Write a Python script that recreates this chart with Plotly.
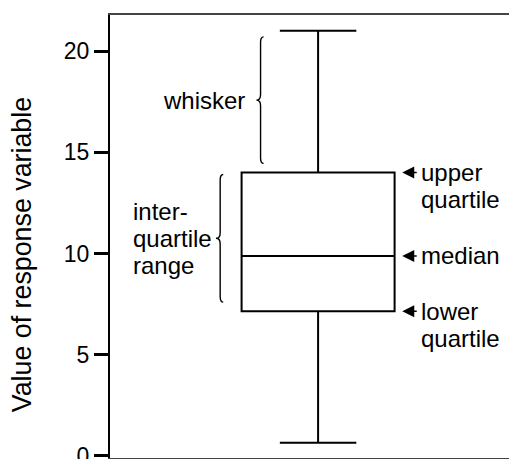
import plotly.graph_objects as go

# box-plot summary values
lower_fence = 0.65
q1 = 7.15
median = 9.88
q3 = 14.0
upper_fence = 21.0

tick_vals = [0, 5, 10, 15, 20]
tick_text = ["0", "5", "10", "15", "20"]

FONT = "Arial, Liberation Sans, sans-serif"
LINE_GAP = 27  # px between lines of a label


def brace(x_spine, y0, y1, tip=0.02, point=0.027, r=0.28):
    """Path for a left-facing curly brace '{' spanning y0..y1 (data units)."""
    ym = (y0 + y1) / 2
    xt = x_spine + tip
    xp = x_spine - point
    return (f"M {xt},{y1} Q {x_spine},{y1} {x_spine},{y1 - r} "
            f"L {x_spine},{ym + r} Q {x_spine},{ym} {xp},{ym} "
            f"Q {x_spine},{ym} {x_spine},{ym - r} "
            f"L {x_spine},{y0 + r} Q {x_spine},{y0} {xt},{y0}")


def label(fig, lines, x, y, xanchor, centred=False):
    # one annotation per line so the line spacing matches the original
    n = len(lines)
    for i, txt in enumerate(lines):
        shift = ((n - 1) / 2 - i) * LINE_GAP if centred else -i * LINE_GAP
        fig.add_annotation(x=x, y=y, text=txt, showarrow=False,
                           xanchor=xanchor, yanchor="middle", yshift=shift,
                           font=dict(size=24, color="black", family=FONT))


fig = go.Figure()

fig.add_trace(go.Box(
    x=[0], q1=[q1], median=[median], q3=[q3],
    lowerfence=[lower_fence], upperfence=[upper_fence],
    width=1, whiskerwidth=0.5, boxpoints=False,
    fillcolor="white", line=dict(color="black", width=2),
    hoverinfo="skip", showlegend=False,
))

# braces for whisker and inter-quartile range
whisk_lo, whisk_hi = q3 + 0.45, upper_fence - 0.3
iqr_lo, iqr_hi = q1 + 0.45, q3 - 0.1
for xs, (a, b) in [(-0.376, (whisk_lo, whisk_hi)), (-0.64, (iqr_lo, iqr_hi))]:
    fig.add_shape(type="path", path=brace(xs, a, b), xref="x", yref="y",
                  line=dict(color="black", width=1.4))

label(fig, ["whisker"], -0.462, (whisk_lo + whisk_hi) / 2, "right")
label(fig, ["inter-", "quartile", "range"], -1.225, (iqr_lo + iqr_hi) / 2, "left", centred=True)

# arrows pointing at the box
for y in [q3, median, q1]:
    fig.add_annotation(x=0.55, y=y, text="", showarrow=True, ax=16, ay=0,
                       arrowhead=2, arrowsize=1.5, arrowwidth=1.6, arrowcolor="black")

label(fig, ["upper", "quartile"], 0.66, q3, "left")
label(fig, ["median"], 0.66, median, "left")
label(fig, ["lower", "quartile"], 0.66, q1, "left")

# y-axis title, set as annotation (centred lower than the plot area)
fig.add_annotation(x=-0.216, y=0.458, xref="paper", yref="paper",
                   text="Value of response variable", textangle=-90,
                   showarrow=False, xanchor="center", yanchor="middle",
                   font=dict(size=26.8, color="black", family=FONT))

# page body has an 8px default margin, so the figure is 8px smaller and shifted
fig.update_layout(
    width=509, height=451,
    margin=dict(l=102, r=0, t=7, b=1, autoexpand=False),
    paper_bgcolor="white", plot_bgcolor="white",
    font=dict(family=FONT, color="black"),
    xaxis=dict(range=[-1.36, 1.30], showgrid=False, zeroline=False,
               showticklabels=False, ticks="", showline=True, mirror=True,
               linecolor="#444", linewidth=1.5, fixedrange=True, automargin=False),
    yaxis=dict(range=[-0.1, 21.78], tickvals=tick_vals, ticktext=tick_text,
               ticks="outside", ticklen=14, tickwidth=2.5, tickcolor="black",
               tickfont=dict(size=23, color="black", family=FONT),
               ticklabeloverflow="allow", automargin=False,
               showgrid=False, zeroline=False, showline=True, mirror=False,
               linecolor="black", linewidth=2, fixedrange=True),
)

fig.write_html("out.html")
